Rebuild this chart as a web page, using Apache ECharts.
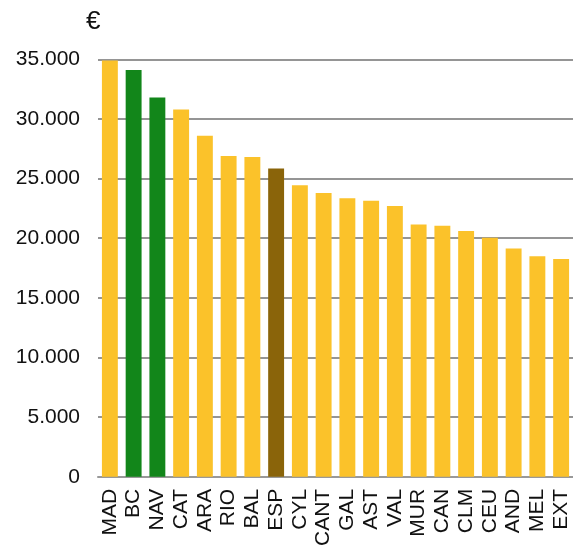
<!DOCTYPE html>
<html>
<head>
<meta charset="utf-8">
<script src="https://cdn.jsdelivr.net/npm/echarts@6/dist/echarts.min.js"></script>
<style>html,body{margin:0;padding:0;background:#fff;}#c{width:573px;height:549px;}</style>
</head>
<body>
<div id="c"></div>
<script>
const categories = ['MAD','BC','NAV','CAT','ARA','RIO','BAL','ESP','CYL','CANT','GAL','AST','VAL','MUR','CAN','CLM','CEU','AND','MEL','EXT'];
const values = [34900,34100,31800,30800,28600,26900,26800,25850,24450,23800,23350,23150,22700,21150,21050,20600,20050,19150,18500,18250];
const highlightGreen = ['BC','NAV'];
const highlightBrown = ['ESP'];
const yTicks = [0,5000,10000,15000,20000,25000,30000,35000];

const YELLOW = '#FBC22A', GREEN = '#12861A', BROWN = '#8A640A';
const FONT = '"Liberation Sans", Arial, sans-serif';
const data = values.map((v,i)=>({
  value: v,
  itemStyle: { color: highlightGreen.includes(categories[i]) ? GREEN : (highlightBrown.includes(categories[i]) ? BROWN : YELLOW) }
}));
const fmt = v => v === 0 ? '0' : v.toLocaleString('de-DE');

const chart = echarts.init(document.getElementById('c'), null, {renderer:'canvas'});
chart.setOption({
  animation: false,
  grid: { left: 98, top: 59.3, width: 480, height: 417.7, containLabel: false },
  graphic: [{ type:'text', left: 86, top: 9, style:{ text:'€', fontSize: 26, fontFamily: FONT, fill:'#111' } }],
  xAxis: {
    type: 'category', data: categories,
    axisLine: { show: true, lineStyle: { color: '#999', width: 2 } },
    axisTick: { show: false },
    axisLabel: { rotate: 90, margin: 12, color: '#111', fontSize: 21, fontFamily: FONT, interval: 0 }
  },
  yAxis: {
    type: 'value', min: yTicks[0], max: yTicks[yTicks.length-1], interval: 5000,
    axisLine: { show: false }, axisTick: { show: false },
    splitLine: { lineStyle: { color: '#959595', width: 2 } },
    axisLabel: { margin: 18, color: '#111', fontSize: 21, fontFamily: FONT, formatter: fmt }
  },
  series: [{ type: 'bar', data: data, barCategoryGap: '33%' }]
});
</script>
</body>
</html>
